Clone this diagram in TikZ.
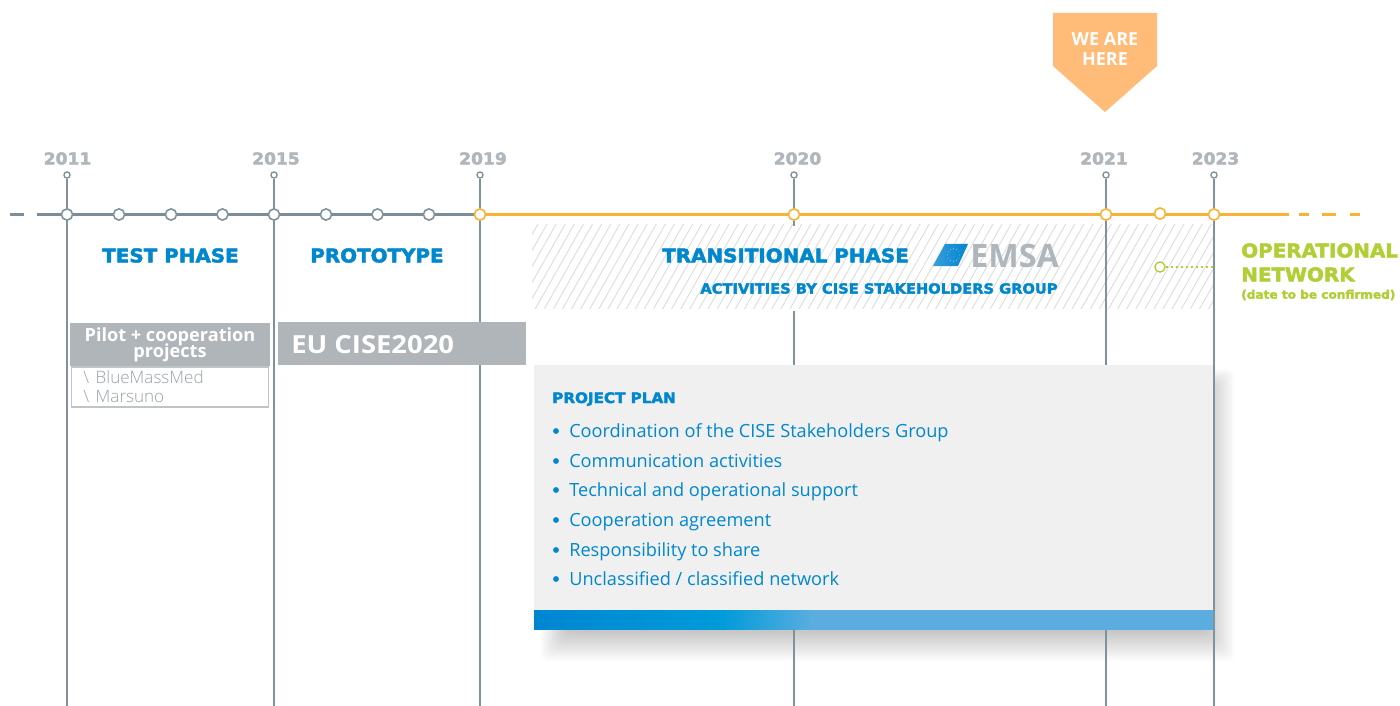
\documentclass[tikz,border=0pt]{standalone}
\usepackage{fontspec}
\setmainfont{Open Sans}
\newfontfamily\heavy[FakeBold=2.5,FakeStretch=1.05]{DejaVu Sans Bold}
\newfontfamily\bodyf{Open Sans}
\newfontfamily\widebold[FakeStretch=1.1]{Open Sans Bold}
\newfontfamily\lightf{Open Sans Light}
\definecolor{linegrey}{HTML}{7F929E}
\definecolor{barE}{HTML}{7D8C96}
\definecolor{yeargrey}{HTML}{B0B7BC}
\definecolor{itemgrey}{HTML}{98A2A9}
\definecolor{boxgrey}{HTML}{AFB5B9}
\definecolor{orangeL}{HTML}{F9B233}
\definecolor{tagO}{HTML}{FFBB78}
\definecolor{blueT}{HTML}{0087CD}
\definecolor{greenT}{HTML}{AFCF35}
\definecolor{cardG}{HTML}{F0F0F0}
\definecolor{hatchG}{HTML}{DCDDDE}
\definecolor{barA}{HTML}{0086D1}
\definecolor{barB}{HTML}{009BD9}
\definecolor{barC}{HTML}{5BADE0}
\pgfdeclarehorizontalshading{barshade}{100bp}{color(0bp)=(barA); color(25bp)=(barA); color(38.8bp)=(barB); color(45.5bp)=(barC); color(100bp)=(barC)}
\tikzset{
 x=0.75pt,y=-0.75pt,
 yearlab/.style={text=yeargrey,font=\heavy\fontsize{12.2}{12}\selectfont,inner sep=0,anchor=center},
 toptick/.style={circle,draw=linegrey,fill=white,line width=1pt,minimum size=4.6pt,inner sep=0},
 greytick/.style={circle,draw=linegrey,fill=white,line width=1.2pt,minimum size=8.4pt,inner sep=0},
 orangetick/.style={circle,draw=orangeL,fill=white,line width=1.2pt,minimum size=8.4pt,inner sep=0},
 vline/.style={draw=linegrey,line width=1.1pt},
 greybar/.style={draw=barE,line width=2.9pt},
 orangebar/.style={draw=orangeL,line width=2.9pt},
 phase/.style={text=blueT,font=\heavy\fontsize{14.2}{14}\selectfont,inner sep=0},
 item/.style={text=blueT,font=\bodyf\fontsize{13.63}{13}\selectfont,inner sep=0,anchor=base west},
 bul/.style={circle,fill=blueT,minimum size=4.4pt,inner sep=0},
 greenh/.style={text=greenT,font=\heavy\fontsize{14.2}{14}\selectfont,inner sep=0,anchor=west},
}
\begin{document}
\begin{tikzpicture}
\useasboundingbox (0,0) rectangle (1400,706);
\fill[white] (0,0) rectangle (1400,706);
% shadow of the card
\foreach \i in {0,...,27}{
 \fill[black,opacity=0.008,rounded corners=6pt]
   (566-\i*0.95,388-\i*0.7) rectangle (1208+\i*1,632+\i*1.1);
}
\foreach \n/\x in {2011/67,2015/274,2019/480,2020/794,2021/1106,2023/1214}{
 \coordinate (b\n) at (\x,706);
}
\node[toptick] (t2011) at (67,175) {};
\node[toptick] (t2015) at (274,175) {};
\node[toptick] (t2019) at (480,175) {};
\node[toptick] (t2020) at (794,175) {};
\node[toptick] (t2021) at (1106,175) {};
\node[toptick] (t2023) at (1214,175) {};
\coordinate (h2020) at (794,226);
\coordinate (g2020) at (794,311);
% hatch band
\begin{scope}
\clip (532,225) rectangle (1214,308);
\foreach \k in {0,...,90}{
 \draw[hatchG,line width=0.7pt] (480+\k*9.1,310) -- (480+\k*9.1+50,222);
}
\end{scope}
% vertical lines
\draw[vline] (t2011) -- (b2011);
\draw[vline] (t2015) -- (b2015);
\draw[vline] (t2019) -- (b2019);
\draw[vline] (t2020) -- (h2020);
\draw[vline] (g2020) -- (b2020);
\draw[vline] (t2021) -- (b2021);
\draw[vline] (t2023) -- (b2023);
% timeline
\coordinate (s0) at (10,214.5);\coordinate (s1) at (24,214.5);\coordinate (s2) at (37,214.5);
\coordinate (m2019) at (480,214.5);\coordinate (e0) at (1289,214.5);
\coordinate (e1) at (1299,214.5);\coordinate (e2) at (1309,214.5);
\coordinate (e3) at (1322,214.5);\coordinate (e4) at (1336,214.5);
\coordinate (e5) at (1350,214.5);\coordinate (e6) at (1360,214.5);
\draw[greybar] (s0) -- (s1);
\draw[greybar] (s2) -- (m2019);
\draw[orangebar] (m2019) -- (e0);
\draw[orangebar] (e1) -- (e2);
\draw[orangebar] (e3) -- (e4);
\draw[orangebar] (e5) -- (e6);
\foreach \x in {67,119,171,222.5,274,326,377.5,429}{
 \node[greytick] at (\x,214.5) {};
}
\foreach \x in {480,794,1106,1214}{
 \node[orangetick] at (\x,214.5) {};
}
\node[orangetick] at (1160,213.5) {};
% years
\node[yearlab] at (67.5,158.5) {2011};
\node[yearlab] at (276,158.5) {2015};
\node[yearlab] at (483,158.5) {2019};
\node[yearlab] at (797.5,158.5) {2020};
\node[yearlab] at (1104,158.5) {2021};
\node[yearlab] at (1215.5,158.5) {2023};
% tag
\fill[tagO] (1053,13) -- (1157,13) -- (1157,66) -- (1105,112) -- (1053,66) -- cycle;
\node[text=white,font=\bodyf\bfseries\fontsize{13.5}{15}\selectfont,align=center,inner sep=0] (tag) at (1105,49.5) {WE ARE\\HERE};
% phases
\node[phase] (test) at (170.5,255.5) {TEST PHASE};
\node[phase] (proto) at (377,255.5) {PROTOTYPE};
\node[phase] (trans) at (785.5,255.5) {TRANSITIONAL PHASE};
\node[text=blueT,font=\heavy\fontsize{10.47}{11}\selectfont,inner sep=0] (act) at (879,288.5) {ACTIVITIES BY CISE STAKEHOLDERS GROUP};
% EMSA
\shade[left color=barC!60!barA,right color=barA] (945,244) -- (968,244) -- (958,266) -- (933,266) -- cycle;
\foreach \a in {0,30,...,330}{
 \fill[white!80!barC] (953.5+6.2*cos \a,255+6.2*sin \a) circle (0.4);
}
\node[text=yeargrey,font=\bodyf\bfseries\fontsize{24.2}{24}\selectfont,inner sep=0,anchor=west] (emsa) at (970,255.5) {EMSA};
% green
\node[circle,draw=greenT,fill=white,line width=1pt,minimum size=7.6pt,inner sep=0] (gc) at (1160,267) {};
\coordinate (gd) at (1214,267);
\draw[greenT,line width=1.6pt,dash pattern=on 1.6pt off 2.2pt] (gc) -- (gd);
\node[greenh] (op) at (1241,250.5) {OPERATIONAL};
\node[greenh] (nw) at (1241,274.5) {NETWORK};
\node[text=greenT,font=\heavy\fontsize{8.65}{9}\selectfont,inner sep=0,anchor=west] (dc) at (1241,295) {(date to be confirmed)};
% left boxes
\node[fill=boxgrey,minimum width=150pt,minimum height=32.25pt,inner sep=0,align=center,text=white,font=\bodyf\bfseries\fontsize{13.6}{12}\selectfont] (pilot) at (170,344.5) {Pilot + cooperation\\[-2.4pt]projects};
\node[draw=boxgrey!80!white,fill=white,line width=1pt,minimum width=147.5pt,minimum height=30pt,inner sep=0] (pbox) at (170,387) {};
\node[text=itemgrey,font=\lightf\fontsize{12.8}{12}\selectfont,inner sep=0,anchor=base west] (bmm) at (83,383) {\textbackslash\hspace{5pt}BlueMassMed};
\node[text=itemgrey,font=\lightf\fontsize{12.8}{12}\selectfont,inner sep=0,anchor=base west] (mar) at (83,402) {\textbackslash\hspace{5pt}Marsuno};
\fill[boxgrey] (278,322) rectangle (526,365);
\node[text=white,font=\widebold\fontsize{18.7}{19}\selectfont,inner sep=0,anchor=west] (eu) at (291,345) {EU CISE2020};
% card
\fill[cardG] (534,365) rectangle (1214,610);
\shade[shading=barshade] (534,610) rectangle (1214,629);
\coordinate (c2023) at (1214,365);
\draw[vline] (c2023) -- (b2023);
\node[text=blueT,font=\heavy\fontsize{10.83}{10}\selectfont,inner sep=0,anchor=base west] (pp) at (552,403) {PROJECT PLAN};
\foreach \y/\t [count=\c] in {431/{Coordination of the CISE Stakeholders Group},461/{Communication activities},490/{Technical and operational support},520/{Cooperation agreement},550/{Responsibility to share},579/{Unclassified / classified network}}{
 \node[bul] (d\c) at (556,\y) {};
 \node[item] (i\c) at (569,\y+6.5) {\t};
}
\end{tikzpicture}
\end{document}
